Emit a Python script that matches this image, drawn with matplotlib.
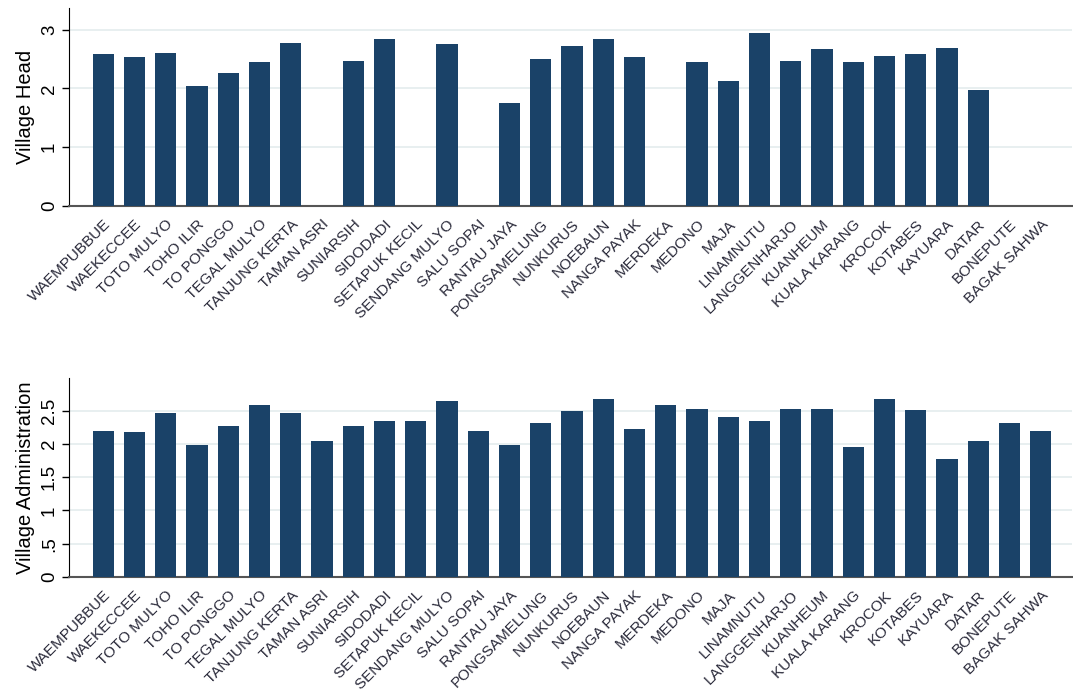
import matplotlib.pyplot as plt
import numpy as np

plt.rcParams['font.family'] = ['Liberation Sans', 'DejaVu Sans']

villages = ["WAEMPUBBUE", "WAEKECCEE", "TOTO MULYO", "TOHO ILIR", "TO PONGGO",
            "TEGAL MULYO", "TANJUNG KERTA", "TAMAN ASRI", "SUNIARSIH", "SIDODADI",
            "SETAPUK KECIL", "SENDANG MULYO", "SALU SOPAI", "RANTAU JAYA",
            "PONGSAMELUNG", "NUNKURUS", "NOEBAUN", "NANGA PAYAK", "MERDEKA",
            "MEDONO", "MAJA", "LINAMNUTU", "LANGGENHARJO", "KUANHEUM",
            "KUALA KARANG", "KROCOK", "KOTABES", "KAYUARA", "DATAR", "BONEPUTE",
            "BAGAK SAHWA"]

# village head score (0 = missing)
head = [2.59, 2.53, 2.61, 2.05, 2.27, 2.45, 2.77, 0, 2.47, 2.85,
        0, 2.75, 0, 1.75, 2.50, 2.72, 2.85, 2.53, 0, 2.45,
        2.13, 2.94, 2.47, 2.67, 2.45, 2.56, 2.59, 2.69, 1.97, 0, 0]

# village administration score
admin = [2.20, 2.18, 2.46, 1.98, 2.27, 2.59, 2.46, 2.05, 2.27, 2.34,
         2.34, 2.65, 2.20, 1.98, 2.32, 2.49, 2.67, 2.22, 2.58, 2.53,
         2.41, 2.34, 2.53, 2.53, 1.95, 2.67, 2.51, 1.78, 2.05, 2.32, 2.20]

bar_col = '#1a4268'
grid_col = '#e6eeef'

fig = plt.figure(figsize=(10.73, 6.94), dpi=100)
ax1 = fig.add_axes([69/1073, 1 - 206/694, (1072-69)/1073, (206-8)/694])
ax2 = fig.add_axes([69/1073, 1 - 577/694, (1072-69)/1073, (577-378)/694])

x = np.arange(len(villages))

def style(ax, vals, ylab, ticks, ticklabels, ytop):
    ax.bar(x, vals, width=0.68, color=bar_col, zorder=3)
    ax.set_xlim(-1.1, len(villages) - 0.0)
    ax.set_ylim(0, ytop)
    ax.set_yticks(ticks)
    ax.set_yticklabels(ticklabels, rotation=90, va='center', fontsize=13.5)
    ax.yaxis.grid(True, color=grid_col, linewidth=1.3, zorder=0)
    ax.set_xticks(x)
    ax.set_xticklabels(villages, rotation=45, ha='right', rotation_mode='anchor',
                       fontsize=11, color='#2a2a3a')
    ax.tick_params(axis='x', length=0, pad=8)
    ax.tick_params(axis='y', length=5, width=1, pad=3)
    ax.spines['top'].set_visible(False)
    ax.spines['right'].set_visible(False)
    ax.spines['left'].set_color('black')
    ax.spines['bottom'].set_color('#555555')
    ax.spines['bottom'].set_linewidth(1.5)
    ax.set_ylabel(ylab, fontsize=14.5, labelpad=4)

style(ax1, head, 'Village Head', [0, 1, 2, 3], ['0', '1', '2', '3'], 3.37)
style(ax2, admin, 'Village Administration', [0, 0.5, 1, 1.5, 2, 2.5],
      ['0', '.5', '1', '1.5', '2', '2.5'], 2.99)

fig.savefig('out.png', dpi=100)
